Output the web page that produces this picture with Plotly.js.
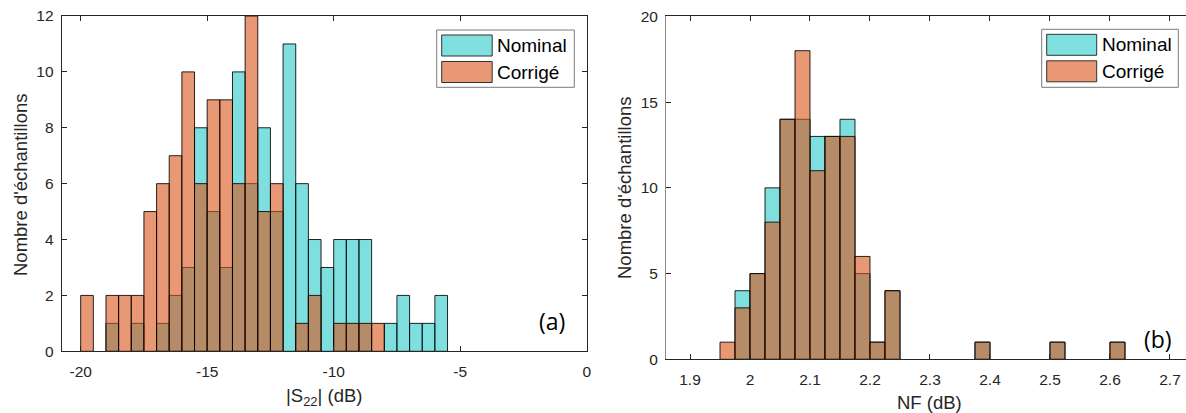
<!DOCTYPE html>
<html>
<head>
<meta charset="utf-8">
<script src="https://cdn.plot.ly/plotly-3.0.1.min.js"></script>
<style>html,body{margin:0;padding:0;background:#fff;}#chart{width:1186px;height:413px;}</style>
</head>
<body>
<div id="chart"></div>
<script>
// ---- Data: panel (a) |S22| histogram (bin left edges, width 0.5 dB) ----
const s22BinLeft = [-20, -19.5, -19, -18.5, -18, -17.5, -17, -16.5, -16, -15.5, -15, -14.5, -14, -13.5, -13, -12.5, -12, -11.5, -11, -10.5, -10, -9.5, -9, -8.5, -8, -7.5, -7, -6.5, -6];
const s22BinWidth = 0.5;
const s22Nominal = [0, 0, 1, 0, 1, 0, 1, 2, 3, 8, 5, 3, 10, 6, 8, 5, 11, 6, 4, 3, 4, 4, 4, 0, 1, 2, 1, 1, 2];
const s22Corrige = [2, 0, 2, 2, 2, 5, 6, 7, 10, 6, 9, 9, 6, 12, 5, 6, 0, 1, 2, 0, 1, 1, 1, 1, 0, 0, 0, 0, 0];
const s22TickVals = [-20, -15, -10, -5, 0];
const s22TickText = ["-20", "-15", "-10", "-5", "0"];

// ---- Data: panel (b) NF histogram (bin left edges, width 0.025 dB) ----
const nfBinLeft = [1.95, 1.975, 2.0, 2.025, 2.05, 2.075, 2.1, 2.125, 2.15, 2.175, 2.2, 2.225, 2.25, 2.275, 2.3, 2.325, 2.35, 2.375, 2.4, 2.425, 2.45, 2.475, 2.5, 2.525, 2.55, 2.575, 2.6];
const nfBinWidth = 0.025;
const nfNominal = [0, 4, 5, 10, 14, 14, 13, 13, 14, 5, 1, 4, 0, 0, 0, 0, 0, 1, 0, 0, 0, 0, 1, 0, 0, 0, 1];
const nfCorrige = [1, 3, 5, 8, 14, 18, 11, 13, 13, 6, 1, 4, 0, 0, 0, 0, 0, 1, 0, 0, 0, 0, 1, 0, 0, 0, 1];
const nfTickVals = [1.9, 2.0, 2.1, 2.2, 2.3, 2.4, 2.5, 2.6, 2.7];
const nfTickText = ["1.9", "2", "2.1", "2.2", "2.3", "2.4", "2.5", "2.6", "2.7"];

const seriesNames = ["Nominal", "Corrigé"];
const yTitle = "Nombre d'échantillons";

// ---- Styles ----
const W = 1186, H = 413;
const FONT = '"Liberation Sans", Arial, sans-serif';
const AX = '#262626';
const cyanFill = 'rgba(0,191,191,0.5)';
const orangeFill = 'rgba(217,83,25,0.6)';
const edge = 'rgba(0,0,0,0.85)';
const px = x => x / W;
const py = y => 1 - y / H;
const nz = arr => arr.map(v => (v === 0 ? null : v));

function barTrace(xs, ys, w, fill, name, xa, ya) {
  return {
    type: 'bar', x: xs, y: nz(ys), width: w, offset: 0, name: name,
    xaxis: xa, yaxis: ya, showlegend: false, hoverinfo: 'x+y',
    marker: { color: fill, line: { color: edge, width: 1 } }
  };
}

const data = [
  barTrace(s22BinLeft, s22Nominal, s22BinWidth, cyanFill, seriesNames[0], 'x', 'y'),
  barTrace(s22BinLeft, s22Corrige, s22BinWidth, orangeFill, seriesNames[1], 'x', 'y'),
  barTrace(nfBinLeft, nfNominal, nfBinWidth, cyanFill, seriesNames[0], 'x2', 'y2'),
  barTrace(nfBinLeft, nfCorrige, nfBinWidth, orangeFill, seriesNames[1], 'x2', 'y2')
];

const axBase = {
  showgrid: false, zeroline: false, showline: true, linecolor: AX, linewidth: 1,
  ticks: 'inside', ticklen: 5, tickwidth: 1, tickcolor: AX,
  tickfont: { family: FONT, size: 15.5, color: AX }, fixedrange: true
};

// legend drawn as shapes + text
function legendItems(x0, y0, swatchW, swatchH, gap, boxW, boxH, xref) {
  const shapes = [];
  const anns = [];
  shapes.push({ type: 'rect', xref: 'paper', yref: 'paper', x0: px(x0), x1: px(x0 + boxW), y0: py(y0), y1: py(y0 + boxH),
    fillcolor: 'white', line: { color: '#7a7a7a', width: 1 } });
  const fills = ['rgb(128,223,223)', 'rgb(232,152,117)'];
  for (let i = 0; i < 2; i++) {
    const sy = y0 + 5 + i * (swatchH + gap);
    shapes.push({ type: 'rect', xref: 'paper', yref: 'paper', x0: px(x0 + 5), x1: px(x0 + 5 + swatchW), y0: py(sy), y1: py(sy + swatchH),
      fillcolor: fills[i], line: { color: '#333', width: 1 } });
    anns.push({ xref: 'paper', yref: 'paper', x: px(x0 + 8 + swatchW), y: py(sy + swatchH / 2), xanchor: 'left', yanchor: 'middle',
      text: seriesNames[i], showarrow: false, font: { family: FONT, size: 19, color: '#000' } });
  }
  return { shapes, anns };
}

const legA = legendItems(436.7, 30, 50.5, 21, 5.5, 137.6, 57.3);
const legB = legendItems(1041.7, 29.3, 50, 21, 5.5, 136.6, 58);

const layout = {
  width: W, height: H,
  margin: { l: 0, r: 0, t: 0, b: 0 },
  paper_bgcolor: 'white', plot_bgcolor: 'white',
  barmode: 'overlay', bargap: 0, showlegend: false,
  font: { family: FONT, color: AX },
  xaxis: Object.assign({}, axBase, {
    domain: [px(61.7), px(586.7)], range: [-20.75, 0], anchor: 'y', mirror: 'ticks',
    tickmode: 'array', tickvals: s22TickVals, ticktext: s22TickText, ticklabelstandoff: 6
  }),
  yaxis: Object.assign({}, axBase, {
    domain: [py(351.3), py(16)], range: [0, 12], anchor: 'x', mirror: 'ticks',
    tickmode: 'linear', tick0: 0, dtick: 2, ticklabelstandoff: 4
  }),
  xaxis2: Object.assign({}, axBase, {
    domain: [px(666), 1], range: [1.86, 2.7267], anchor: 'y2', mirror: 'ticks',
    tickmode: 'array', tickvals: nfTickVals, ticktext: nfTickText, ticklabelstandoff: 6
  }),
  yaxis2: Object.assign({}, axBase, {
    domain: [py(359.3), py(16.4)], range: [0, 20], anchor: 'x2', mirror: false, linecolor: '#8c8c8c',
    tickmode: 'linear', tick0: 0, dtick: 5, ticklabelstandoff: 4
  }),
  shapes: [].concat(legA.shapes, legB.shapes),
  annotations: [].concat(legA.anns, legB.anns, [
    { xref: 'paper', yref: 'paper', x: px(20), y: py(185), text: yTitle, textangle: -90, showarrow: false,
      xanchor: 'center', yanchor: 'middle', font: { family: FONT, size: 18.5, color: AX } },
    { xref: 'paper', yref: 'paper', x: px(624), y: py(188), text: yTitle, textangle: -90, showarrow: false,
      xanchor: 'center', yanchor: 'middle', font: { family: FONT, size: 18.5, color: AX } },
    { xref: 'paper', yref: 'paper', x: px(324), y: py(397), text: '|S<sub>22</sub>| (dB)', showarrow: false,
      xanchor: 'center', yanchor: 'middle', font: { family: FONT, size: 18.5, color: AX } },
    { xref: 'paper', yref: 'paper', x: px(929), y: py(402), text: 'NF (dB)', showarrow: false,
      xanchor: 'center', yanchor: 'middle', font: { family: FONT, size: 18.5, color: AX } },
    { xref: 'paper', yref: 'paper', x: px(552), y: py(321), text: '(a)', showarrow: false,
      xanchor: 'center', yanchor: 'middle', font: { family: '"Open Sans", "Noto Sans", sans-serif', size: 23, color: '#000' } },
    { xref: 'paper', yref: 'paper', x: px(1158), y: py(339), text: '(b)', showarrow: false,
      xanchor: 'center', yanchor: 'middle', font: { family: '"Open Sans", "Noto Sans", sans-serif', size: 23, color: '#000' } }
  ])
};

Plotly.newPlot('chart', data, layout, { staticPlot: true, displayModeBar: false });
</script>
</body>
</html>
